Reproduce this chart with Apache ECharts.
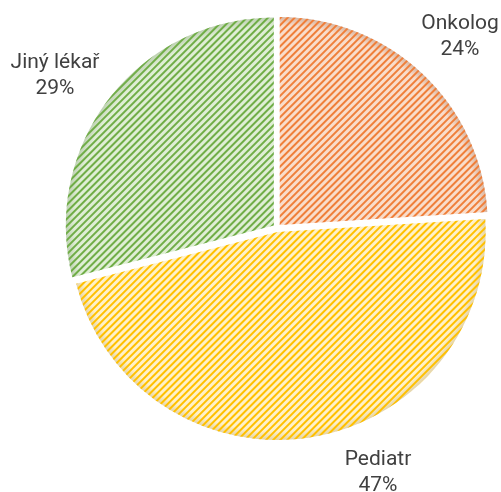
<!DOCTYPE html>
<html>
<head>
<meta charset="utf-8">
<script src="https://cdn.jsdelivr.net/npm/echarts@6/dist/echarts.min.js"></script>
<style>
html,body{margin:0;padding:0;background:#fff;}
#c{width:501px;height:492px;}
</style>
</head>
<body>
<div id="c"></div>
<script>
const categories = ['Onkolog', 'Pediatr', 'Jiný lékař'];
const values = [24, 47, 29];
const stripeColors = ['#EF7F3A', '#FFC000', '#70AD47'];
const fillColors = ['#F9DDCB', '#FFF1C9', '#DFEED5'];
const rimColors = ['#C9A590', '#D8C79A', '#AFC3A3'];

const CX = 277, CY = 228, R = 208;
const labelPos = [[460, 37], [378, 473], [55, 76]];

const chart = echarts.init(document.getElementById('c'), null, {renderer: 'canvas'});

const data = categories.map((name, i) => ({
  name: name,
  value: values[i],
  selected: true,
  itemStyle: {
    color: {
      type: 'radial', x: CX, y: CY, r: R + 4, global: true,
      colorStops: [
        {offset: 0, color: fillColors[i]},
        {offset: 0.94, color: fillColors[i]},
        {offset: 1, color: rimColors[i]}
      ]
    },
    decal: {
      symbol: 'rect',
      symbolSize: 1,
      color: stripeColors[i],
      dashArrayX: [1, 0],
      dashArrayY: [2, 2.3],
      rotation: -Math.PI / 4
    }
  }
}));

const total = values.reduce((a, b) => a + b, 0);
const labels = categories.map((name, i) => ({
  type: 'text',
  x: labelPos[i][0],
  y: labelPos[i][1],
  silent: true,
  style: {
    text: name + '\n' + Math.round(values[i] / total * 100) + '%',
    fill: '#404040',
    font: '21px Roboto',
    lineHeight: 26,
    textAlign: 'center',
    textVerticalAlign: 'middle',
    align: 'center',
    verticalAlign: 'middle'
  }
}));

chart.setOption({
  animation: false,
  aria: {enabled: false},
  graphic: labels,
  series: [{
    type: 'pie',
    center: [CX, CY],
    radius: [0, R],
    startAngle: 90,
    clockwise: true,
    selectedMode: 'multiple',
    selectedOffset: 4,
    label: {show: false},
    labelLine: {show: false},
    emphasis: {disabled: true},
    data: data
  }]
});
</script>
</body>
</html>
